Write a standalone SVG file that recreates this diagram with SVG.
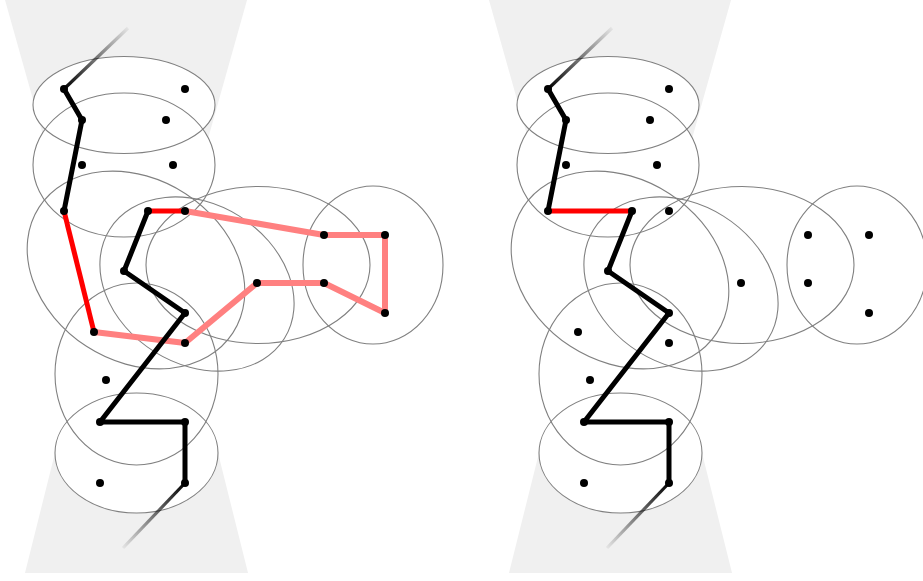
<svg xmlns="http://www.w3.org/2000/svg" width="923" height="581" viewBox="0 0 923 581">
<style>
.cone{fill:#f0f0f0;stroke:none}
.efill{fill:#ffffff;stroke:none}
.eline{fill:none;stroke:#808080;stroke-width:1.1}
.blk{fill:none;stroke:#000;stroke-width:5;stroke-linejoin:round}
.red{fill:none;stroke:#ff0000;stroke-width:5}
.pink{fill:none;stroke:#ff8080;stroke-width:6;stroke-linejoin:round}
.dot{fill:#000}
</style>
<defs>
<linearGradient id="fadeUp" x1="1" y1="0" x2="0" y2="1">
<stop offset="0" stop-color="#000" stop-opacity="0.05"/>
<stop offset="1" stop-color="#000" stop-opacity="1"/>
</linearGradient>
<linearGradient id="fadeDown" x1="1" y1="0" x2="0" y2="1">
<stop offset="0" stop-color="#000" stop-opacity="1"/>
<stop offset="1" stop-color="#000" stop-opacity="0.05"/>
</linearGradient>
<ellipse id="e1" cx="124" cy="105" rx="91" ry="48.5"/>
<ellipse id="e2" cx="124" cy="165" rx="91" ry="72"/>
<ellipse id="e3" cx="136" cy="270" rx="115.5" ry="91" transform="rotate(33 136 270)"/>
<ellipse id="e4" cx="197" cy="284" rx="103" ry="80" transform="rotate(32 197 284)"/>
<ellipse id="e5" cx="258" cy="265" rx="112" ry="78.5"/>
<ellipse id="e6" cx="373" cy="265" rx="70" ry="79"/>
<ellipse id="e7" cx="136.5" cy="374" rx="81.5" ry="91"/>
<ellipse id="e8" cx="136.5" cy="453" rx="81.5" ry="60"/>
</defs>

<g id="left-panel">
<g id="L-cones">
<polygon class="cone" points="5,0 247,0 202,160 50,160"/>
<polygon class="cone" points="25,573 248,573 218,453 55,453"/>
</g>
<g id="L-fills">
<use href="#e1" class="efill"/><use href="#e2" class="efill"/><use href="#e3" class="efill"/><use href="#e4" class="efill"/>
<use href="#e5" class="efill"/><use href="#e6" class="efill"/><use href="#e7" class="efill"/><use href="#e8" class="efill"/>
</g>
<g id="L-ellipse1"><use href="#e1" class="eline"/></g>
<g id="L-ellipse2"><use href="#e2" class="eline"/></g>
<g id="L-ellipse3"><use href="#e3" class="eline"/></g>
<g id="L-ellipse4"><use href="#e4" class="eline"/></g>
<g id="L-ellipse5"><use href="#e5" class="eline"/></g>
<g id="L-ellipse6"><use href="#e6" class="eline"/></g>
<g id="L-ellipse7"><use href="#e7" class="eline"/></g>
<g id="L-ellipse8"><use href="#e8" class="eline"/></g>
<g id="L-connectors">
<line x1="128" y1="28" x2="64" y2="89" stroke="url(#fadeUp)" stroke-width="3.2"/>
<line x1="185" y1="483" x2="123" y2="548" stroke="url(#fadeDown)" stroke-width="3.2"/>
<polyline class="blk" points="64,89 82,120 64,211"/>
<line class="red" x1="64" y1="211" x2="94" y2="332"/>
<polyline class="pink" points="94,332 185,343 257,283 324,283 385,313 385,235 324,235 185,211"/>
<line class="red" x1="185" y1="211" x2="148" y2="211"/>
<polyline class="blk" points="148,211 124,271 185,313 100,422 185,422 185,483"/>
</g>
<g id="L-nodes">
<circle id="L-A" class="dot" cx="64" cy="89" r="4"/>
<circle id="L-B" class="dot" cx="82" cy="120" r="4"/>
<circle id="L-C" class="dot" cx="64" cy="211" r="4"/>
<circle id="L-D" class="dot" cx="94" cy="332" r="4"/>
<circle id="L-E" class="dot" cx="148" cy="211" r="4"/>
<circle id="L-F" class="dot" cx="185" cy="211" r="4"/>
<circle id="L-G" class="dot" cx="324" cy="235" r="4"/>
<circle id="L-H" class="dot" cx="385" cy="235" r="4"/>
<circle id="L-I" class="dot" cx="385" cy="313" r="4"/>
<circle id="L-J" class="dot" cx="324" cy="283" r="4"/>
<circle id="L-K" class="dot" cx="257" cy="283" r="4"/>
<circle id="L-L" class="dot" cx="185" cy="343" r="4"/>
<circle id="L-M" class="dot" cx="124" cy="271" r="4"/>
<circle id="L-N" class="dot" cx="185" cy="313" r="4"/>
<circle id="L-O" class="dot" cx="100" cy="422" r="4"/>
<circle id="L-P" class="dot" cx="185" cy="422" r="4"/>
<circle id="L-Q" class="dot" cx="185" cy="483" r="4"/>
<circle id="L-R" class="dot" cx="185" cy="89" r="4"/>
<circle id="L-S" class="dot" cx="166" cy="120" r="4"/>
<circle id="L-T" class="dot" cx="82" cy="165" r="4"/>
<circle id="L-U" class="dot" cx="173" cy="165" r="4"/>
<circle id="L-V" class="dot" cx="106" cy="380" r="4"/>
<circle id="L-W" class="dot" cx="100" cy="483" r="4"/>
</g>
</g>

<g id="right-panel" transform="translate(484,0)">
<g id="R-cones">
<polygon class="cone" points="5,0 247,0 202,160 50,160"/>
<polygon class="cone" points="25,573 248,573 218,453 55,453"/>
</g>
<g id="R-fills">
<use href="#e1" class="efill"/><use href="#e2" class="efill"/><use href="#e3" class="efill"/><use href="#e4" class="efill"/>
<use href="#e5" class="efill"/><use href="#e6" class="efill"/><use href="#e7" class="efill"/><use href="#e8" class="efill"/>
</g>
<g id="R-ellipse1"><use href="#e1" class="eline"/></g>
<g id="R-ellipse2"><use href="#e2" class="eline"/></g>
<g id="R-ellipse3"><use href="#e3" class="eline"/></g>
<g id="R-ellipse4"><use href="#e4" class="eline"/></g>
<g id="R-ellipse5"><use href="#e5" class="eline"/></g>
<g id="R-ellipse6"><use href="#e6" class="eline"/></g>
<g id="R-ellipse7"><use href="#e7" class="eline"/></g>
<g id="R-ellipse8"><use href="#e8" class="eline"/></g>
<g id="R-connectors">
<line x1="128" y1="28" x2="64" y2="89" stroke="url(#fadeUp)" stroke-width="3.2"/>
<line x1="185" y1="483" x2="123" y2="548" stroke="url(#fadeDown)" stroke-width="3.2"/>
<polyline class="blk" points="64,89 82,120 64,211"/>
<line class="red" x1="64" y1="211" x2="148" y2="211"/>
<polyline class="blk" points="148,211 124,271 185,313 100,422 185,422 185,483"/>
</g>
<g id="R-nodes">
<circle id="R-A" class="dot" cx="64" cy="89" r="4"/>
<circle id="R-B" class="dot" cx="82" cy="120" r="4"/>
<circle id="R-C" class="dot" cx="64" cy="211" r="4"/>
<circle id="R-D" class="dot" cx="94" cy="332" r="4"/>
<circle id="R-E" class="dot" cx="148" cy="211" r="4"/>
<circle id="R-F" class="dot" cx="185" cy="211" r="4"/>
<circle id="R-G" class="dot" cx="324" cy="235" r="4"/>
<circle id="R-H" class="dot" cx="385" cy="235" r="4"/>
<circle id="R-I" class="dot" cx="385" cy="313" r="4"/>
<circle id="R-J" class="dot" cx="324" cy="283" r="4"/>
<circle id="R-K" class="dot" cx="257" cy="283" r="4"/>
<circle id="R-L" class="dot" cx="185" cy="343" r="4"/>
<circle id="R-M" class="dot" cx="124" cy="271" r="4"/>
<circle id="R-N" class="dot" cx="185" cy="313" r="4"/>
<circle id="R-O" class="dot" cx="100" cy="422" r="4"/>
<circle id="R-P" class="dot" cx="185" cy="422" r="4"/>
<circle id="R-Q" class="dot" cx="185" cy="483" r="4"/>
<circle id="R-R" class="dot" cx="185" cy="89" r="4"/>
<circle id="R-S" class="dot" cx="166" cy="120" r="4"/>
<circle id="R-T" class="dot" cx="82" cy="165" r="4"/>
<circle id="R-U" class="dot" cx="173" cy="165" r="4"/>
<circle id="R-V" class="dot" cx="106" cy="380" r="4"/>
<circle id="R-W" class="dot" cx="100" cy="483" r="4"/>
</g>
</g>
</svg>
